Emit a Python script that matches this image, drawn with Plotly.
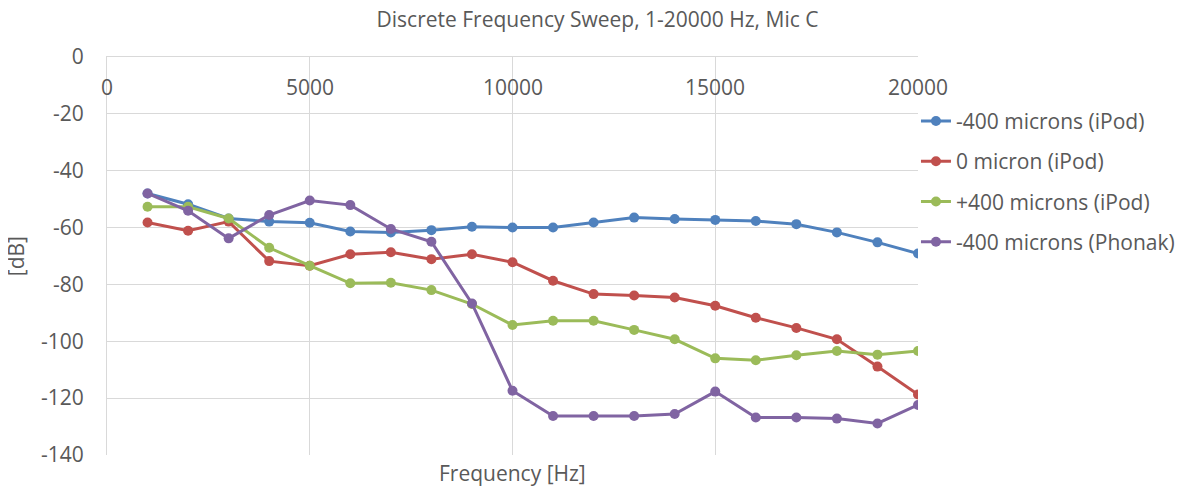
"""Discrete frequency sweep chart, Mic C."""

import plotly.graph_objects as go

freq = [1000, 2000, 3000, 4000, 5000, 6000, 7000, 8000, 9000, 10000,
        11000, 12000, 13000, 14000, 15000, 16000, 17000, 18000, 19000, 20000]

minus400_ipod = [-48.0, -51.8, -56.8, -57.9, -58.3, -61.4, -61.7, -60.9, -59.7, -60.0,
                 -60.0, -58.2, -56.5, -57.0, -57.3, -57.7, -58.8, -61.7, -65.2, -69.1]
zero_ipod = [-58.2, -61.1, -57.9, -71.8, -73.4, -69.4, -68.7, -71.1, -69.4, -72.2,
             -78.7, -83.4, -83.9, -84.6, -87.5, -91.7, -95.3, -99.3, -108.9, -118.7]
plus400_ipod = [-52.7, -52.7, -56.8, -67.1, -73.4, -79.6, -79.4, -82.0, -86.9, -94.3,
                -92.8, -92.8, -96.0, -99.3, -106.0, -106.7, -104.9, -103.4, -104.7, -103.4]
minus400_phonak = [-48.0, -54.1, -63.8, -55.6, -50.5, -52.1, -60.5, -65.0, -86.7, -117.4,
                   -126.3, -126.3, -126.3, -125.6, -117.7, -126.8, -126.8, -127.2, -128.9, -122.4]

series_names = ["-400 microns (iPod)", "0 micron (iPod)",
                "+400 microns (iPod)", "-400 microns (Phonak)"]
series_values = [minus400_ipod, zero_ipod, plus400_ipod, minus400_phonak]
colors = ["#4F81BD", "#C0504D", "#9BBB59", "#8064A2"]

x_ticks = [0, 5000, 10000, 15000, 20000]
x_tick_text = ["0", "5000", "10000", "15000", "20000"]
y_ticks = [0, -20, -40, -60, -80, -100, -120, -140]
y_tick_text = ["0", "-20", "-40", "-60", "-80", "-100", "-120", "-140"]

FONT = "Open Sans"
TEXT_COLOR = "#595959"
GRID = "#D9D9D9"
FS = 21

# the page body keeps its default 8px margin, so the figure is 8px smaller
W, H = 1179, 479

fig = go.Figure()
for i, (name, vals, col) in enumerate(zip(series_names, series_values, colors)):
    fig.add_trace(go.Scatter(
        x=freq, y=vals, name=name, mode="lines+markers",
        line=dict(color=col, width=3),
        marker=dict(color=col, size=10),
        legendgroup=f"g{i}",
    ))

# x tick labels sit just under the top (y = 0) axis line, inside the plot
annotations = [
    dict(text=t, x=v, xref="x", y=1, yref="paper", xanchor="center",
         yanchor="middle", yshift=-30, showarrow=False,
         font=dict(size=FS, color=TEXT_COLOR))
    for v, t in zip(x_ticks, x_tick_text)
]
annotations += [
    dict(text="Frequency [Hz]", xref="paper", yref="paper", x=0.5, y=0,
         xanchor="center", yanchor="middle", yshift=-18, showarrow=False,
         font=dict(size=FS, color=TEXT_COLOR)),
    dict(text="[dB]", xref="paper", yref="paper", x=-0.112, y=0.5,
         xanchor="center", yanchor="middle", textangle=-90, showarrow=False,
         font=dict(size=FS, color=TEXT_COLOR)),
]

fig.update_layout(
    width=W, height=H,
    margin=dict(l=99, r=269, t=49, b=32, autoexpand=False),
    paper_bgcolor="white", plot_bgcolor="white",
    font=dict(family=FONT, size=FS, color=TEXT_COLOR),
    title=dict(text="Discrete Frequency Sweep, 1-20000 Hz, Mic C",
               x=0.5, xanchor="center", y=1 - 12 / H, yref="container",
               yanchor="middle", font=dict(size=FS, color=TEXT_COLOR)),
    showlegend=True,
    legend=dict(x=0.9975, xanchor="left", y=0.89, yanchor="top",
                font=dict(size=FS, color=TEXT_COLOR),
                tracegroupgap=10, bgcolor="rgba(0,0,0,0)"),
    xaxis=dict(range=[0, 20000], tickvals=x_ticks, showticklabels=False,
               side="top", showgrid=True, gridcolor=GRID, automargin=False,
               showline=True, linecolor=GRID, zeroline=False, ticks=""),
    yaxis=dict(range=[-140, 0], tickvals=y_ticks, ticktext=y_tick_text,
               showgrid=True, gridcolor=GRID, showline=True, linecolor=GRID,
               zeroline=False, ticks="", ticklabelstandoff=18, automargin=False),
    annotations=annotations,
)

fig.write_html("out.html")
